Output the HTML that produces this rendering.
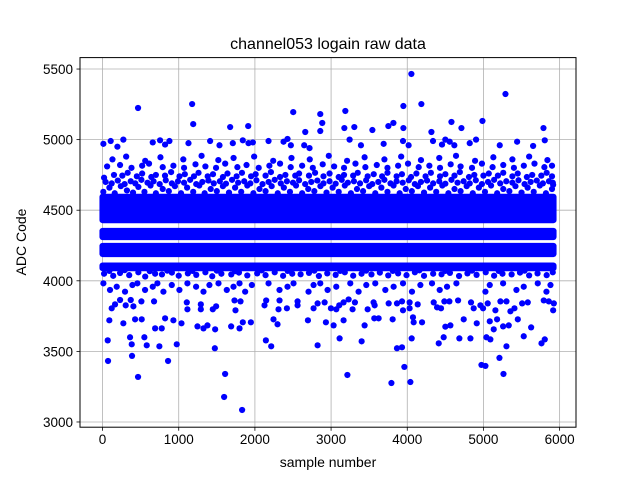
<!DOCTYPE html>
<html><head><meta charset="utf-8"><style>
body{margin:0;background:#fff;}
svg{display:block;font-family:"Liberation Sans","DejaVu Sans",sans-serif;}
</style></head><body>
<svg id="chart" width="640" height="480" viewBox="0 0 640 480">
<rect width="640" height="480" fill="#fff"/>
<text x="328" y="49" text-anchor="middle" font-size="16" fill="#000">channel053 logain raw data</text>
<g id="grid"></g>
<g id="bands"></g>
<g id="pts"></g>
<rect x="80" y="57.6" width="496" height="369.6" fill="none" stroke="#000" stroke-width="1"/>
<g id="ticks"></g>
<text x="328" y="467" text-anchor="middle" font-size="14">sample number</text>
<text transform="translate(26,242) rotate(-90)" text-anchor="middle" font-size="14">ADC Code</text>
</svg>
<script>
const xTicks=[0,1000,2000,3000,4000,5000,6000];
const yTicks=[3000,3500,4000,4500,5000,5500];
const bandLow=[4430,4310,4190,4090];
const bandHigh=[4595,4353,4247,4108];
const bandStart=[0,0,0,0];
const bandEnd=[5919,5919,5919,5919];
const highOutliers=[[466,5224],[1176,5252],[1190,5110],[1675,5089],[1912,5096],[2503,5195],[2661,5054],[2858,5181],[2884,5118],[2858,5061],[3187,5203],[3174,5082],[3305,5089],[3542,5068],[3752,5096],[3818,5118],[3949,5238],[3949,5082],[4054,5465],[4185,5252],[4317,5054],[4580,5125],[4711,5082],[4987,5132],[5289,5323],[5788,5082]];
const lowOutliers=[[72,3432],[466,3319],[387,3468],[860,3432],[1609,3340],[1596,3177],[1832,3085],[3214,3333],[3792,3276],[3962,3390],[4041,3283],[4974,3404],[5026,3397],[5210,3454],[5263,3340]];
const lowScatter=[[68,3578],[89,3720],[273,3699],[361,3600],[383,3550],[427,3727],[514,3727],[549,3600],[580,3543],[690,3663],[746,3536],[777,3663],[821,3734],[930,3720],[974,3550],[1036,3699],[1246,3677],[1325,3663],[1377,3684],[1478,3656],[1474,3522],[1688,3677],[1798,3663],[1841,3706],[1947,3706],[2144,3578],[2214,3536],[2244,3727],[2297,3692],[2696,3720],[2823,3543],[2932,3706],[3033,3684],[3112,3592],[3164,3720],[3401,3571],[3440,3684],[3567,3734],[3624,3734],[3808,3727],[3865,3522],[3931,3529],[4058,3592],[4075,3741],[4084,3706],[4194,3706],[4413,3557],[4478,3600],[4500,3675],[4566,3684],[4684,3592],[4741,3727],[4829,3592],[4912,3699],[5039,3600],[5091,3585],[5083,3713],[5135,3656],[5179,3727],[5258,3677],[5302,3536],[5332,3684],[5451,3727],[5529,3607],[5626,3670],[5762,3557],[5805,3585]];
const midScatter=[[120,3805],[164,3833],[230,3864],[304,3826],[370,3864],[405,3819],[510,3854],[676,3854],[1106,3847],[1114,3798],[1290,3833],[1290,3798],[1447,3798],[1491,3819],[1732,3861],[1745,3791],[1811,3854],[2126,3826],[2148,3861],[2310,3798],[2323,3861],[2420,3805],[2560,3854],[2560,3826],[2770,3805],[2823,3840],[2915,3847],[2998,3805],[3068,3798],[3107,3826],[3164,3847],[3230,3868],[3282,3798],[3313,3847],[3480,3798],[3558,3847],[3572,3826],[3756,3840],[3865,3840],[3931,3854],[3944,3791],[4031,3847],[4031,3805],[4137,3833],[4347,3847],[4391,3812],[4443,3805],[4487,3854],[4553,3854],[4667,3861],[4837,3847],[4872,3805],[4960,3826],[4995,3805],[5056,3840],[5157,3791],[5223,3854],[5302,3854],[5354,3784],[5407,3805],[5508,3840],[5582,3847],[5792,3861],[5858,3854],[5924,3840],[5915,3791]];
const row3950=[[11,3982],[98,3935],[186,3958],[295,3923],[392,3970],[457,3982],[558,3935],[659,3958],[720,3982],[799,3923],[909,3970],[1009,3935],[1114,3982],[1228,3958],[1325,3923],[1403,3970],[1522,3982],[1631,3935],[1719,3958],[1798,3982],[1872,3923],[1960,3970],[2179,3982],[2323,3935],[2428,3958],[2507,3982],[2704,3923],[2770,3970],[2858,3982],[2954,3935],[3068,3958],[3252,3982],[3361,3923],[3462,3970],[3580,3982],[3712,3935],[3821,3958],[3944,3982],[4062,3923],[4172,3970],[4325,3982],[4426,3935],[4522,3958],[4645,3982],[5026,3923],[5083,3970],[5258,3982],[5433,3935],[5529,3958],[5713,3982],[5827,3923],[5880,3970]];
const row4040=[[20,4050],[90,4070],[140,4035],[230,4055],[290,4075],[350,4040],[470,4060],[560,4030],[620,4068],[690,4050],[780,4045],[850,4072],[910,4058],[1000,4036],[1120,4052],[1180,4070],[1230,4042],[1350,4060],[1440,4032],[1500,4072],[1560,4050],[1690,4045],[1740,4068],[1790,4058],[1900,4038],[2030,4052],[2090,4074],[2140,4040],[2260,4060],[2370,4035],[2430,4070],[2490,4050],[2600,4046],[2710,4056],[2780,4072],[2840,4034],[2950,4052],[3060,4042],[3120,4070],[3180,4060],[3290,4036],[3400,4050],[3460,4072],[3530,4045],[3640,4058],[3750,4038],[3810,4070],[3880,4052],[3990,4040],[4100,4060],[4160,4074],[4220,4035],[4340,4050],[4450,4046],[4500,4070],[4560,4056],[4680,4034],[4790,4052],[4850,4072],[4910,4042],[5030,4060],[5140,4036],[5200,4070],[5250,4050],[5370,4045],[5480,4058],[5540,4072],[5600,4038],[5710,4052],[5830,4040],[5910,4060]];
const upperDense=[[10,4630],[90,4660],[160,4620],[240,4670],[320,4640],[400,4625],[470,4665],[550,4630],[630,4675],[700,4620],[790,4650],[870,4635],[950,4670],[1030,4620],[1110,4660],[1190,4630],[1270,4675],[1340,4620],[1420,4650],[1500,4635],[1580,4670],[1660,4625],[1740,4660],[1820,4630],[1900,4675],[1980,4620],[2060,4650],[2140,4635],[2220,4670],[2300,4620],[2380,4660],[2460,4630],[2540,4675],[2620,4620],[2700,4650],[2780,4635],[2860,4670],[2940,4625],[3020,4660],[3100,4630],[3180,4675],[3260,4620],[3340,4650],[3420,4635],[3500,4670],[3580,4620],[3660,4660],[3740,4630],[3820,4675],[3900,4620],[3980,4650],[4060,4635],[4140,4670],[4220,4625],[4300,4660],[4380,4630],[4460,4675],[4540,4620],[4620,4650],[4700,4635],[4780,4670],[4860,4620],[4940,4660],[5020,4630],[5100,4675],[5180,4620],[5260,4650],[5340,4635],[5420,4670],[5500,4625],[5580,4660],[5660,4630],[5740,4675],[5820,4620],[5900,4650],[5915,4680]];
const row4680=[[40,4700],[120,4690],[200,4710],[290,4685],[370,4705],[430,4690],[510,4715],[590,4695],[670,4705],[750,4685],[830,4712],[910,4690],[990,4705],[1070,4695],[1150,4715],[1230,4685],[1310,4700],[1390,4710],[1460,4690],[1540,4705],[1620,4688],[1700,4715],[1780,4695],[1860,4705],[1940,4690],[2020,4712],[2100,4685],[2180,4700],[2260,4715],[2340,4690],[2420,4705],[2500,4695],[2580,4712],[2660,4685],[2740,4700],[2820,4710],[2900,4690],[2980,4705],[3060,4688],[3140,4715],[3220,4695],[3300,4705],[3380,4690],[3460,4712],[3540,4685],[3620,4700],[3700,4715],[3780,4690],[3860,4705],[3940,4695],[4020,4712],[4100,4685],[4180,4700],[4260,4710],[4340,4690],[4420,4705],[4500,4688],[4580,4715],[4660,4695],[4740,4705],[4820,4690],[4900,4712],[4980,4685],[5060,4700],[5140,4715],[5220,4690],[5300,4705],[5380,4695],[5460,4712],[5540,4685],[5620,4700],[5700,4710],[5780,4690],[5860,4705],[5910,4695]];
const row4730=[[20,4730],[150,4750],[260,4745],[330,4765],[450,4740],[520,4760],[640,4735],[700,4750],[820,4745],[900,4770],[1010,4740],[1080,4755],[1200,4740],[1260,4765],[1380,4740],[1450,4755],[1580,4735],[1640,4760],[1760,4740],[1830,4765],[1950,4740],[2010,4755],[2140,4745],[2210,4770],[2330,4735],[2400,4750],[2530,4745],[2580,4760],[2710,4745],[2790,4765],[2900,4740],[2980,4760],[3100,4735],[3170,4750],[3290,4745],[3350,4765],[3480,4740],[3560,4755],[3670,4740],[3740,4765],[3860,4740],[3930,4755],[4050,4735],[4120,4760],[4240,4740],[4310,4765],[4430,4740],[4500,4755],[4620,4745],[4690,4770],[4810,4735],[4880,4750],[5000,4745],[5070,4760],[5190,4745],[5260,4765],[5380,4740],[5450,4760],[5570,4735],[5640,4750],[5760,4745],[5830,4765],[5900,4740]];
const row4800=[[60,4810],[230,4820],[380,4800],[520,4815],[610,4830],[790,4805],[930,4815],[1070,4800],[1220,4825],[1350,4810],[1490,4800],[1610,4830],[1770,4805],[1890,4820],[2050,4800],[2190,4815],[2330,4830],[2470,4805],[2620,4815],[2760,4800],[2890,4825],[3040,4810],[3170,4800],[3320,4830],[3450,4805],[3600,4820],[3740,4800],[3880,4815],[4010,4830],[4150,4805],[4290,4815],[4430,4800],[4570,4825],[4700,4810],[4850,4800],[4980,4830],[5120,4805],[5260,4820],[5400,4800],[5530,4815],[5670,4830],[5800,4805],[5900,4815]];
const row4860=[[130,4860],[310,4880],[560,4850],[760,4875],[1060,4860],[1300,4885],[1520,4855],[1720,4870],[1990,4880],[2240,4850],[2480,4870],[2720,4860],[2970,4885],[3210,4850],[3440,4875],[3700,4860],[3920,4880],[4180,4855],[4420,4870],[4640,4885],[4890,4850],[5130,4875],[5380,4860],[5600,4880],[5840,4855]];
const row4970=[[11,4970],[107,4990],[195,4950],[273,5000],[659,4980],[755,4995],[821,4965],[878,4990],[1128,4975],[1412,4990],[1535,4960],[1710,4975],[1841,4995],[1916,4975],[1973,4980],[2179,4990],[2376,4985],[2428,5005],[2472,4960],[2647,4960],[2717,4940],[3243,5000],[3392,4960],[3690,4970],[3944,4990],[4018,4960],[4338,4990],[4456,4965],[4500,5000],[4557,4985],[4618,4960],[4820,4975],[4903,5000],[5214,4960],[5442,4985],[5652,4955],[5805,4995]];

const X0=80,X1=576,Y0=57.6,Y1=427.2,XMIN=-296,XMAX=6215,YMIN=2963,YMAX=5581;
function sx(v){return X0+(v-XMIN)/(XMAX-XMIN)*(X1-X0);}
function sy(v){return Y1-(v-YMIN)/(YMAX-YMIN)*(Y1-Y0);}
const NS='http://www.w3.org/2000/svg';
function mk(tag,attrs,parent){const e=document.createElementNS(NS,tag);for(const k in attrs)e.setAttribute(k,attrs[k]);parent.appendChild(e);return e;}
const grid=document.getElementById('grid'),ticks=document.getElementById('ticks');
xTicks.forEach(t=>{const x=sx(t);
 const g=mk('line',{x1:x,x2:x,y1:Y0,y2:Y1,stroke:'#b0b0b0','stroke-width':0.8},grid);
 
 
 const tk=mk('line',{x1:x,x2:x,y1:Y1,y2:Y1+3.5,stroke:'#000','stroke-width':0.8},ticks);
 
 
 const lb=mk('text',{x:x,y:Y1+17,'text-anchor':'middle','font-size':13.5},ticks);lb.textContent=t;
 
 
});
yTicks.forEach(t=>{const y=sy(t);
 const g=mk('line',{x1:X0,x2:X1,y1:y,y2:y,stroke:'#b0b0b0','stroke-width':0.8},grid);
 
 
 const tk=mk('line',{x1:X0-3.5,x2:X0,y1:y,y2:y,stroke:'#000','stroke-width':0.8},ticks);
 
 
 const lb=mk('text',{x:X0-7,y:y+5,'text-anchor':'end','font-size':13.5},ticks);lb.textContent=t;
 
 
});
const R=3.1;
const bands=document.getElementById('bands');
bandLow.forEach((lo,i)=>{const xa=sx(bandStart[i])-R,xb=sx(bandEnd[i])+R,ya=sy(bandHigh[i])-R,yb=sy(lo)+R;
 const r=mk('rect',{x:xa,y:ya,width:xb-xa,height:yb-ya,rx:R,fill:'#0000ff'},bands);
 
 
});
const pts=document.getElementById('pts');
[upperDense,row4680,row4730,row4800,row4860,row4970,highOutliers,row4040,row3950,midScatter,lowScatter,lowOutliers].forEach(arr=>{
 arr.forEach(p=>{const c=mk('circle',{cx:sx(p[0]),cy:sy(p[1]),r:R,fill:'#0000ff'},pts);
  
  
 });
});
</script>
</body></html>
